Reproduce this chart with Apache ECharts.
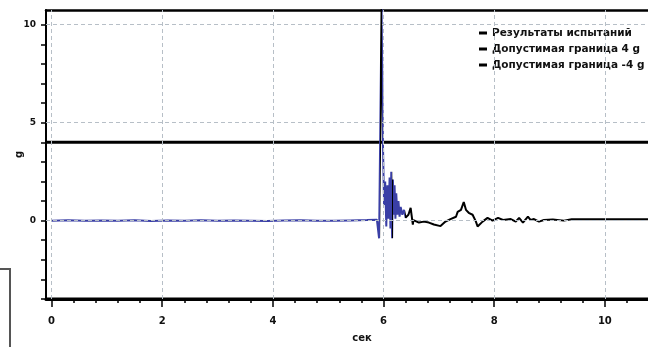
<!DOCTYPE html>
<html>
<head>
<meta charset="utf-8">
<script src="https://cdn.jsdelivr.net/npm/echarts@6/dist/echarts.min.js"></script>
<style>
  html, body { margin: 0; padding: 0; background: #fff; }
  #chart { width: 648px; height: 347px; }
</style>
</head>
<body>
<div id="chart"></div>
<script>
// Test record: acceleration (g) against time (s)
const seriesNames = ['Результаты испытаний', 'Допустимая граница 4 g', 'Допустимая граница -4 g'];

const timeSec = [
  0.00, 0.30, 0.60, 0.90, 1.20, 1.50, 1.80, 2.10, 2.40, 2.70,
  3.00, 3.30, 3.60, 3.90, 4.20, 4.50, 4.80, 5.10, 5.40, 5.70,
  5.88, 5.92, 5.955, 5.965, 5.99, 6.01, 6.03, 6.05, 6.07, 6.09,
  6.11, 6.125, 6.14, 6.155, 6.17, 6.185, 6.20, 6.215, 6.23, 6.25,
  6.27, 6.29, 6.31, 6.34, 6.37, 6.40, 6.45, 6.49, 6.53, 6.54,
  6.64, 6.73, 6.82, 6.91, 7.03, 7.12, 7.21, 7.31, 7.34, 7.40,
  7.45, 7.49, 7.54, 7.61, 7.67, 7.70, 7.79, 7.88, 7.97, 8.07,
  8.16, 8.30, 8.39, 8.45, 8.52, 8.61, 8.66, 8.72, 8.81, 8.90,
  9.06, 9.26, 9.40, 10.78
];

const accelG = [
  0.00, 0.02, -0.01, 0.01, 0.00, 0.02, -0.02, 0.01, 0.00, 0.02,
  -0.01, 0.01, 0.00, -0.02, 0.01, 0.02, 0.00, -0.01, 0.01, 0.03,
  0.05, -0.90, -0.90, 10.90, 3.90, 0.80, 2.00, -0.30, 1.80, 0.10,
  2.20, -0.40, 2.50, -0.90, 2.10, 0.30, 1.80, 0.10, 1.40, 0.30,
  1.00, 0.20, 0.70, 0.30, 0.55, 0.15, 0.30, 0.65, -0.20, 0.03,
  -0.10, -0.05, -0.10, -0.20, -0.28, -0.05, 0.08, 0.20, 0.45, 0.55,
  0.95, 0.55, 0.40, 0.30, -0.05, -0.30, -0.05, 0.14, 0.00, 0.14,
  0.03, 0.08, -0.05, 0.14, -0.10, 0.20, 0.03, 0.08, -0.05, 0.03,
  0.06, 0.00, 0.07, 0.07
];

const limitUpper = 4;
const limitLower = -4;

const xRange = [-0.1, 10.78];
const yRange = [-4, 10.75];
const xMajorTicks = [0, 2, 4, 6, 8, 10];
const xMinorTicks = [0.4, 0.8, 1.2, 1.6, 2.4, 2.8, 3.2, 3.6, 4.4, 4.8, 5.2, 5.6,
                     6.4, 6.8, 7.2, 7.6, 8.4, 8.8, 9.2, 9.6, 10.4];
const yTickValues = [-4, -3, -2, -1, 0, 1, 2, 3, 4, 5, 6, 7, 8, 9, 10];
const yLabelValues = [0, 5, 10];

const blue = '#3a3fa6';
const ink = '#000';
const labelFont = '"DejaVu Sans", sans-serif';

const chart = echarts.init(document.getElementById('chart'), null, { renderer: 'canvas' });

const axisBase = { type: 'value', min: xRange[0], max: xRange[1], splitLine: { show: false } };

chart.setOption({
  animation: false,
  backgroundColor: '#fff',
  grid: { left: 46, right: 0, top: 10, bottom: 48, containLabel: false, outerBoundsMode: 'none' },
  legend: {
    data: seriesNames,
    orient: 'vertical',
    left: 474,
    top: 22,
    icon: 'rect',
    itemWidth: 8,
    itemHeight: 3,
    itemGap: 4,
    textStyle: { fontFamily: labelFont, fontWeight: 'bold', fontSize: 10.5, color: '#111', lineHeight: 12 }
  },
  visualMap: {
    type: 'piecewise',
    show: false,
    seriesIndex: 0,
    dimension: 0,
    pieces: [
      { lt: 5.945, color: blue },
      { gte: 5.945, lt: 5.975, color: ink },
      { gte: 5.975, lt: 6.145, color: blue },
      { gte: 6.145, lt: 6.165, color: ink },
      { gte: 6.165, lt: 6.38, color: blue },
      { gte: 6.38, color: ink }
    ]
  },
  xAxis: [
    Object.assign({}, axisBase, {
      position: 'bottom',
      name: 'сек',
      nameLocation: 'middle',
      nameGap: 34,
      nameMoveOverlap: false,
      nameTextStyle: { fontFamily: labelFont, fontWeight: 'bold', fontSize: 10, color: '#111', padding: [0, 0, 0, 30] },
      axisLine: { onZero: false, lineStyle: { color: ink, width: 3 } },
      axisTick: { customValues: xMajorTicks, length: 8, lineStyle: { color: ink, width: 1.5 } },
      axisLabel: { customValues: xMajorTicks, margin: 17, fontFamily: labelFont, fontWeight: 'bold', fontSize: 10, color: '#111' }
    }),
    Object.assign({}, axisBase, {
      position: 'bottom',
      axisLine: { show: false, onZero: false },
      axisTick: { customValues: xMinorTicks, length: 4, lineStyle: { color: ink, width: 1.5 } },
      axisLabel: { show: false }
    }),
    Object.assign({}, axisBase, {
      position: 'top',
      axisLine: { onZero: false, lineStyle: { color: ink, width: 2.5 } },
      axisTick: { show: false },
      axisLabel: { show: false }
    })
  ],
  yAxis: {
    type: 'value',
    min: yRange[0],
    max: yRange[1],
    name: 'g',
    nameLocation: 'middle',
    nameGap: 22,
    nameMoveOverlap: false,
    nameTextStyle: { fontFamily: labelFont, fontWeight: 'bold', fontSize: 10, color: '#111' },
    axisLine: { show: true, onZero: false, lineStyle: { color: ink, width: 2 } },
    axisTick: { show: true, customValues: yTickValues, length: 5, lineStyle: { color: ink, width: 1.5 } },
    axisLabel: { customValues: yLabelValues, margin: 10, fontFamily: labelFont, fontWeight: 'bold', fontSize: 9, color: '#111' },
    splitLine: { show: false }
  },
  series: [
    {
      name: seriesNames[0],
      type: 'line',
      xAxisIndex: 0,
      data: timeSec.map((t, i) => [t, accelG[i]]),
      showSymbol: false,
      color: ink,
      lineStyle: { width: 2 },
      z: 4
    },
    {
      name: seriesNames[1],
      type: 'line',
      xAxisIndex: 0,
      data: [[xRange[0], limitUpper], [xRange[1], limitUpper]],
      showSymbol: false,
      color: ink,
      lineStyle: { width: 3 },
      z: 3
    },
    {
      name: seriesNames[2],
      type: 'line',
      xAxisIndex: 0,
      data: [[xRange[0], limitLower], [xRange[1], limitLower]],
      showSymbol: false,
      color: ink,
      lineStyle: { width: 3 },
      z: 3
    },
    {
      // dashed reference grid at the labelled ticks
      name: 'grid-lines',
      type: 'line',
      xAxisIndex: 0,
      data: [[0, 0]],
      showSymbol: false,
      lineStyle: { opacity: 0 },
      silent: true,
      z: 1,
      markLine: {
        silent: true,
        symbol: 'none',
        label: { show: false },
        lineStyle: { color: '#b7bfc7', type: [4, 3], width: 1 },
        data: xMajorTicks.map(v => ({ xAxis: v })).concat(yLabelValues.map(v => ({ yAxis: v })))
      }
    }
  ],
  graphic: [
    {
      type: 'polyline',
      silent: true,
      shape: { points: [[0, 269], [10, 269], [10, 347]] },
      style: { stroke: '#555', lineWidth: 2, fill: null }
    }
  ]
});
</script>
</body>
</html>
